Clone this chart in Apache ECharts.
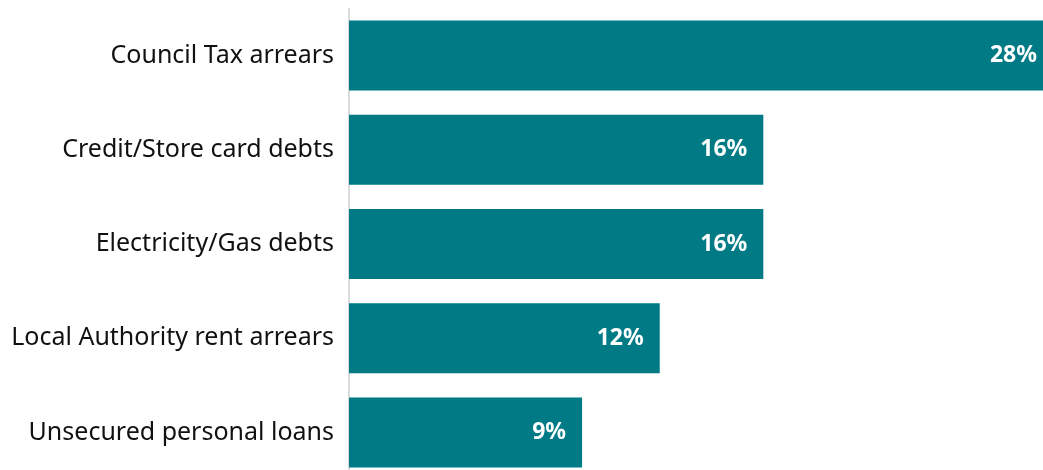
<!DOCTYPE html>
<html>
<head>
<meta charset="utf-8">
<style>
  html, body { margin: 0; padding: 0; background: #ffffff; overflow: hidden; }
  #chart { width: 1043px; height: 480px; }
</style>
<script src="https://cdn.jsdelivr.net/npm/echarts@6/dist/echarts.min.js"></script>
</head>
<body>
<div id="chart"></div>
<script>
// Debt types, shown top to bottom
const categories = [
  'Council Tax arrears',
  'Credit/Store card debts',
  'Electricity/Gas debts',
  'Local Authority rent arrears',
  'Unsecured personal loans'
];
// Share of clients with each debt type (%)
const shares = [28, 16, 16, 12, 9];

const AXIS_MAX = 26.8;

// Bars running past the plot edge are clipped; keep their label tucked inside the visible part
const barData = shares.map(v => v > AXIS_MAX ? { value: v, label: { distance: 6 } } : v);

const chart = echarts.init(document.getElementById('chart'));
chart.setOption({
  animation: false,
  grid: { left: 349, width: 694, top: 8.4, height: 471.2, containLabel: false },
  xAxis: {
    type: 'value',
    min: 0,
    max: AXIS_MAX,
    show: false
  },
  yAxis: {
    type: 'category',
    data: categories,
    inverse: true,
    axisLine: { show: true, lineStyle: { color: '#dcdcdc', width: 2 } },
    axisTick: { show: false },
    axisLabel: {
      margin: 15,
      color: '#111111',
      fontFamily: 'Noto Sans',
      fontSize: 25
    }
  },
  series: [{
    type: 'bar',
    data: barData,
    barWidth: 70,
    clip: true,
    itemStyle: { color: '#007B85' },
    label: {
      show: true,
      position: 'insideRight',
      distance: 16,
      formatter: '{c}%',
      color: '#ffffff',
      fontFamily: 'Noto Sans',
      fontWeight: 'bold',
      fontSize: 23
    }
  }]
});
</script>
</body>
</html>
